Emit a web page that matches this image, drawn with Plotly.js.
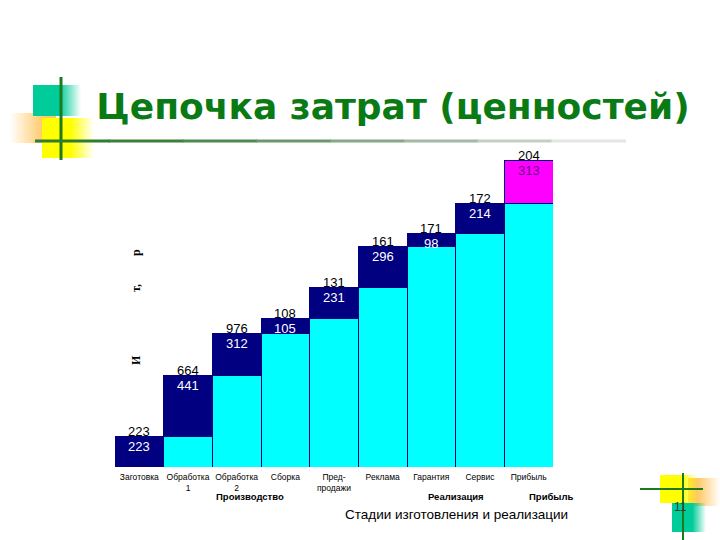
<!DOCTYPE html>
<html>
<head>
<meta charset="utf-8">
<script src="https://cdn.plot.ly/plotly-3.0.1.min.js"></script>
<style>html,body{margin:0;padding:0;background:#fff;}#chart{width:720px;height:540px;}</style>
</head>
<body>
<div id="chart"></div>
<script>
// ---- data ----
const categories = ['Заготовка', 'Обработка<br>1', 'Обработка<br>2', 'Сборка', 'Пред-<br>продажи', 'Реклама', 'Гарантия', 'Сервис', 'Прибыль'];
const increments = [223, 441, 312, 105, 231, 296, 98, 214, 0];
const profit = [0, 0, 0, 0, 0, 0, 0, 0, 313];
const topLabels = ['223', '664', '976', '108', '131', '161', '171', '172', '204'];
const innerLabels = ['223', '441', '312', '105', '231', '296', '98', '214', '313'];
const groupLabels = ['Производство', 'Реализация', 'Прибыль'];
const axisTitle = 'Стадии изготовления и реализации';
const chartTitle = 'Цепочка затрат (ценностей)';
const pageNumber = '11';

// cumulative bases
const base = [];
let acc = 0;
for (let i = 0; i < increments.length; i++) { base.push(acc); acc += increments[i]; }
const totals = base.map((b, i) => b + increments[i] + profit[i]);

const W = 720, H = 540;
const px = x => x / W;
const py = y => 1 - y / H;

const traces = [
  { type: 'bar', x: categories, y: base, marker: { color: '#00FFFF', line: { color: '#000080', width: 1 } }, hoverinfo: 'skip' },
  { type: 'bar', x: categories, y: increments, marker: { color: '#000080', line: { color: '#000080', width: 1 } }, hoverinfo: 'skip' },
  { type: 'bar', x: categories, y: profit, marker: { color: '#FF00FF', line: { color: '#000080', width: 1 } }, hoverinfo: 'skip' }
];

const annotations = [];
categories.forEach((c, i) => {
  annotations.push({ x: i, y: totals[i], xref: 'x', yref: 'y', text: topLabels[i], showarrow: false,
    yanchor: 'middle', yshift: 5, font: { family: 'Liberation Sans, Arial', size: 13, color: '#000' } });
  annotations.push({ x: i, y: totals[i], xref: 'x', yref: 'y', text: innerLabels[i], showarrow: false,
    yanchor: 'middle', yshift: -10, font: { family: 'Liberation Sans, Arial', size: 13, color: profit[i] > 0 ? '#6A0A8A' : '#FFFFFF' } });
});
const groupPos = [2.27, 6.51, 8.46];
groupLabels.forEach((g, i) => {
  annotations.push({ x: groupPos[i], y: py(496), xref: 'x', yref: 'paper', text: '<b>' + g + '</b>', showarrow: false,
    yanchor: 'middle', font: { family: 'Liberation Sans, Arial', size: 9.5, color: '#000' } });
});
annotations.push({ x: 6.51, y: py(514), xref: 'x', yref: 'paper', text: axisTitle, showarrow: false,
  yanchor: 'middle', font: { family: 'Liberation Sans, Arial', size: 13.5, color: '#000' } });
// rotated y-axis label fragments
[['И', 367], ['т,', 288], ['р', 253]].forEach(t => {
  annotations.push({ x: px(127), y: py(t[1]), xref: 'paper', yref: 'paper', text: '<b>' + t[0] + '</b>', showarrow: false,
    textangle: -90, font: { family: 'Liberation Serif, Times New Roman', size: 12, color: '#000' } });
});
annotations.push({ x: px(689), y: py(516), xref: 'paper', yref: 'paper', text: pageNumber, showarrow: false,
  font: { family: 'Liberation Sans, Arial', size: 12, color: '#2a3a3a' } });

// decorations (gradient squares as inline SVG images)
function grad(id, color, stopAt, dir) {
  const x2 = dir === 'left' ? '0' : '1', x1 = dir === 'left' ? '1' : '0';
  return `<linearGradient id="${id}" x1="${x1}" y1="0" x2="${x2}" y2="0">` +
    `<stop offset="0" stop-color="${color}" stop-opacity="1"/>` +
    `<stop offset="${stopAt}" stop-color="${color}" stop-opacity="1"/>` +
    `<stop offset="1" stop-color="${color}" stop-opacity="0"/></linearGradient>`;
}
function svgUri(w, h, body) {
  return 'data:image/svg+xml;charset=utf-8,' + encodeURIComponent(
    `<svg xmlns="http://www.w3.org/2000/svg" width="${w}" height="${h}" viewBox="0 0 ${w} ${h}">${body}</svg>`);
}
// top-left block: origin (0,70), size 100x95
const tl = svgUri(100, 95,
  '<defs>' + grad('o', '#FFC864', 0.25, 'left') + grad('t', '#00CC99', 0.55, 'right') + grad('y', '#FFFF00', 0.55, 'right') + '</defs>' +
  '<rect x="10" y="43" width="46" height="30" fill="url(#o)"/>' +
  '<rect x="42" y="48" width="52" height="40" fill="url(#y)"/>' +
  '<rect x="33" y="15" width="48" height="31" fill="url(#t)"/>');
// bottom-right block: origin (640,465), size 80x75
const br = svgUri(80, 75,
  '<defs>' + grad('o2', '#FFC864', 0.3, 'right') + grad('y2', '#FFFF00', 0.6, 'right') + grad('t2', '#00CC99', 0.6, 'right') + '</defs>' +
  '<rect x="48" y="13" width="32" height="28" fill="url(#o2)"/>' +
  '<rect x="20" y="10" width="38" height="28" fill="url(#y2)"/>' +
  '<rect x="32" y="38" width="34" height="29" fill="url(#t2)"/>');
const images = [
  { source: tl, xref: 'paper', yref: 'paper', x: px(0), y: py(70), sizex: 100 / W, sizey: 95 / H, xanchor: 'left', yanchor: 'top', sizing: 'stretch', layer: 'below' },
  { source: br, xref: 'paper', yref: 'paper', x: px(640), y: py(465), sizex: 80 / W, sizey: 75 / H, xanchor: 'left', yanchor: 'top', sizing: 'stretch', layer: 'below' }
];

const shapes = [];
shapes.push({ type: 'line', xref: 'paper', yref: 'paper', x0: px(61), x1: px(61), y0: py(77), y1: py(160), line: { color: '#1E7A1E', width: 3 } });
const segCols = ['#2E7D32', '#3A803C', '#4E8A4E', '#6A9A6A', '#86A886', '#A4B8A4', '#C4CFC4', '#E2E7E2'];
const segStart = 35, segEnd = 625, segW = (segEnd - segStart) / segCols.length;
segCols.forEach((c, k) => {
  shapes.push({ type: 'line', xref: 'paper', yref: 'paper', x0: px(segStart + k * segW), x1: px(segStart + (k + 1) * segW + 1), y0: py(141), y1: py(141), line: { color: c, width: 3 } });
});
shapes.push({ type: 'line', xref: 'paper', yref: 'paper', x0: px(683), x1: px(683), y0: py(473), y1: py(540), line: { color: '#1E7A1E', width: 2 } });
shapes.push({ type: 'line', xref: 'paper', yref: 'paper', x0: px(640), x1: px(703), y0: py(489), y1: py(489), line: { color: '#1E7A1E', width: 2 } });

const layout = {
  width: W, height: H,
  margin: { l: 0, r: 0, t: 0, b: 0 },
  paper_bgcolor: '#FFFFFF', plot_bgcolor: 'rgba(0,0,0,0)',
  showlegend: false, hovermode: false,
  barmode: 'stack', bargap: 0,
  title: { text: '<b>' + chartTitle + '</b>', x: px(393), xanchor: 'center', y: py(106), yanchor: 'middle',
    font: { family: 'DejaVu Sans, Verdana', size: 36, color: '#0A7A14' } },
  xaxis: { type: 'category', range: [-0.5, 8.5], domain: [px(115), px(553)], showgrid: false, zeroline: false, showline: false, ticks: '',
    ticklabelstandoff: 3, tickfont: { family: 'Liberation Sans, Arial', size: 8.5, color: '#000' }, fixedrange: true },
  yaxis: { range: [0, 2400], domain: [py(467), py(138)], showgrid: false, zeroline: false, showline: false,
    showticklabels: false, ticks: '', fixedrange: true },
  annotations: annotations,
  shapes: shapes,
  images: images
};

Plotly.newPlot('chart', traces, layout, { displayModeBar: false, staticPlot: true });
</script>
</body>
</html>
